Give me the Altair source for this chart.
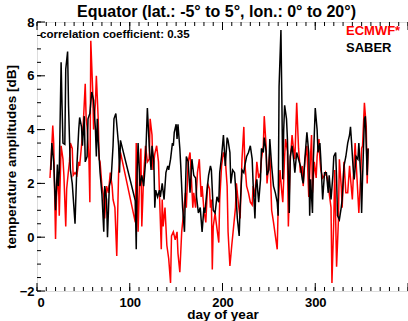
import altair as alt
import pandas as pd

# ---------------- data ----------------
saber_day = [15,16,18,20,22,23,24,26,27,28,30,31,33,34,36,38,41,43,45,46,48,49,51,52,54,55,57,59,61,63,64,65,66,68,70,72,73,75,76,78,80,82,83,85,87,88,89,90,
             106,107,108,109,111,113,115,117,118,119,121,123,124,126,127,128,130,132,133,135,137,139,141,142,144,146,147,148,150,151,152,154,155,157,159,160,161,163,165,167,169,171,172,174,176,178,180,181,183,185,187,188,190,192,194,196,197,199,201,203,205,206,208,209,211,213,214,216,218,219,221,223,224,226,228,230,232,233,235,236,237,239,241,242,244,245,247,248,250,251,253,255,257,259,260,261,263,264,265,266,267,269,270,272,273,275,277,278,280,282,284,286,287,289,291,293,294,295,297,298,300,302,303,305,306,308,310,312,314,315,317,319,320,322,323,324,326,328,329,331,333,335,337,338,339,341,342,344,346,347,349,350,351,353,354,356,357]
saber_val = [2.5,3.5,2.8,1.0,2.7,1.9,2.4,6.5,4.9,3.5,3.45,6.25,6.9,4.9,2.5,2.0,0.5,2.65,4.0,4.45,4.1,3.4,4.5,2.8,3.0,4.4,4.6,5.4,5.1,4.0,3.0,4.4,3.6,2.4,1.6,0.2,1.9,1.4,0.0,1.9,2.2,3.4,4.4,4.6,3.8,3.4,2.4,3.6,
             1.35,-0.45,2.5,3.5,1.9,2.3,1.9,2.8,3.8,4.8,3.4,2.5,3.4,2.8,1.1,1.75,1.5,1.75,1.5,2.0,1.4,2.4,2.65,2.5,2.9,3.5,3.4,3.9,4.2,3.65,4.2,3.3,2.65,1.1,0.2,1.65,3.0,2.8,1.65,2.9,2.3,2.2,1.5,0.9,1.1,0.2,1.1,0.9,1.65,2.3,2.65,2.5,1.0,0.9,1.5,1.3,2.4,3.0,3.8,2.65,3.7,3.6,3.15,2.0,2.5,2.4,1.9,0.7,0.05,1.1,2.5,2.4,2.65,3.0,3.15,3.4,2.9,2.0,0.7,1.9,2.15,1.3,2.15,3.3,3.15,3.7,3.2,2.3,2.5,3.65,2.65,1.9,1.65,1.3,0.8,5.6,7.7,5.1,2.15,4.0,4.9,4.4,3.65,0.9,3.0,3.4,2.8,2.4,3.15,2.9,2.65,2.15,2.0,3.0,3.9,3.15,0.8,2.15,0.9,2.9,4.8,4.0,3.15,3.5,2.9,1.4,2.4,2.4,1.65,2.3,1.4,2.3,3.0,3.15,2.2,0.8,0.65,1.1,1.4,2.65,3.0,3.5,3.8,4.1,3.6,2.5,2.15,3.0,2.9,3.5,2.3,0.9,2.2,4.4,4.5,2.3,3.3]

ecmwf_day = [14,16,17,18,20,21,23,24,26,28,29,31,32,34,35,36,38,39,41,43,45,46,48,50,52,53,54,56,57,58,60,61,63,64,66,67,68,70,72,73,75,77,79,81,82,84,86,87,88,90,
             106,107,109,111,112,113,115,117,119,121,122,124,125,127,129,131,132,134,135,136,138,140,142,144,145,147,149,151,152,154,156,158,160,161,163,165,166,168,169,171,173,175,177,178,180,182,184,186,187,188,189,190,192,193,196,197,199,201,203,205,206,208,210,212,214,215,217,219,221,223,224,226,228,230,232,233,235,237,239,241,242,244,245,247,248,250,251,253,255,257,259,260,262,264,265,267,268,270,271,273,275,277,278,280,282,284,286,287,289,291,293,294,296,297,299,301,302,304,305,306,308,310,311,313,315,317,318,320,321,323,325,326,328,329,331,333,335,337,338,340,341,343,345,347,349,350,351,353,355,356,357]
ecmwf_val = [2.2,3.4,4.15,3.5,-0.07,1.5,2.4,0.8,3.4,2.9,2.3,0.4,1.8,2.5,2.8,3.5,3.3,2.3,2.4,2.3,2.8,2.65,3.4,4.3,5.7,4.4,4.1,2.9,1.3,7.3,5.5,4.0,5.0,6.0,4.4,2.9,2.8,1.9,1.5,0.7,1.9,1.65,2.4,1.9,1.4,1.1,-0.7,0.9,2.4,3.15,
             0.55,3.5,0.2,2.65,3.3,0.4,2.3,3.4,2.8,2.9,4.4,3.8,2.5,3.1,3.4,2.8,1.65,-0.45,1.4,0.4,1.1,-0.3,-0.8,-1.7,0.05,0.2,-0.1,0.2,-0.6,-1.3,0.2,0.9,1.65,1.1,2.8,3.15,2.5,1.1,1.65,1.1,2.4,2.9,1.5,1.9,1.0,0.55,2.0,1.8,1.1,1.4,-1.2,0.4,0.9,0.6,-0.2,1.4,2.65,3.15,2.9,1.9,0.2,-1.07,-0.3,0.4,1.1,2.0,1.3,0.7,2.9,4.1,2.8,1.9,1.65,1.3,1.2,1.9,1.5,2.8,2.2,2.4,2.9,3.4,4.5,3.4,2.0,2.8,3.15,1.0,0.55,0.05,-0.45,1.1,2.5,1.65,1.3,3.0,3.65,3.2,0.4,2.8,3.8,3.15,2.9,5.0,3.3,2.4,2.65,1.9,2.9,3.4,1.5,2.3,3.8,1.65,2.8,2.2,3.0,3.65,2.9,2.5,2.2,2.3,2.4,2.2,1.65,1.1,-1.7,0.65,2.5,-1.1,0.65,2.9,1.9,1.1,2.8,1.65,1.65,2.65,2.2,1.4,2.2,3.5,2.2,0.9,2.3,3.3,3.4,5.0,4.1,2.0,3.3]

series_names = ["ECMWF*", "SABER"]
series_colors = ["#ff0000", "#000000"]

x_major = [0, 100, 200, 300, 400]
x_minor = list(range(0, 401, 10))
y_major = [-2, 0, 2, 4, 6, 8]
y_minor = [v / 2 for v in range(-4, 17)]

title_text = "Equator (lat.: -5° to 5°, lon.: 0° to 20°)"
corr_text = "correlation coefficient: 0.35"

# ---------------- layout ----------------
W, H = 371, 269
FONT = "Liberation Sans"

df = pd.concat([
    pd.DataFrame({"day": ecmwf_day, "amp": ecmwf_val, "series": "ECMWF*"}),
    pd.DataFrame({"day": saber_day, "amp": saber_val, "series": "SABER"}),
])

xs = alt.Scale(domain=[0, 400], nice=False, zero=False)
ys = alt.Scale(domain=[-2, 8], nice=False, zero=False)
cs = alt.Scale(domain=series_names, range=series_colors)

x_axis = alt.Axis(
    values=x_major[:-1], title="day of year", grid=False, ticks=False, domain=False,
    labelFont=FONT, labelFontWeight="bold", labelFontSize=13, labelPadding=5,
    labelColor="black", titleFont=FONT, titleFontWeight="bold", titleFontSize=13.5,
    titleColor="black", titleBaseline="alphabetic", titleY=27, titleX=W / 2)
y_axis = alt.Axis(
    values=y_major, title="temperature amplitudes [dB]", grid=False, ticks=False, domain=False,
    labelFont=FONT, labelFontWeight="bold", labelFontSize=13, labelPadding=3,
    labelColor="black", titleFont=FONT, titleFontWeight="bold", titleFontSize=13.5,
    titleColor="black", titleAngle=270, titleBaseline="middle", titleAlign="center",
    titleX=-26, titleY=H / 2)

lines = alt.Chart(df).mark_line(strokeWidth=1.5, interpolate="linear").encode(
    x=alt.X("day:Q", scale=xs, axis=x_axis),
    y=alt.Y("amp:Q", scale=ys, axis=y_axis),
    color=alt.Color("series:N", scale=cs, legend=None),
    order=alt.Order("day:Q"),
)

def xticks(vals, length):
    d = pd.DataFrame({"day": vals})
    bottom = alt.Chart(d).mark_rule(color="black", strokeWidth=1).encode(
        x=alt.X("day:Q", scale=xs, axis=x_axis), y=alt.value(H), y2=alt.value(H - length))
    top = alt.Chart(d).mark_rule(color="black", strokeWidth=1).encode(
        x=alt.X("day:Q", scale=xs, axis=x_axis), y=alt.value(0), y2=alt.value(length))
    return [bottom, top]

def yticks(vals, length):
    d = pd.DataFrame({"amp": vals})
    return alt.Chart(d).mark_rule(color="black", strokeWidth=1).encode(
        y=alt.Y("amp:Q", scale=ys, axis=y_axis), x=alt.value(0), x2=alt.value(length))

corr = alt.Chart(pd.DataFrame({"t": [corr_text]})).mark_text(
    font=FONT, fontWeight="bold", fontSize=11.5, align="left", baseline="alphabetic", color="black"
).encode(text="t:N", x=alt.value(3), y=alt.value(15.5))

def legend_item(i, ypix):
    return alt.Chart(pd.DataFrame({"name": [series_names[i]]})).mark_text(
        font=FONT, fontWeight="bold", fontSize=13, align="left", baseline="alphabetic",
        color=series_colors[i]
    ).encode(text="name:N", x=alt.value(309), y=alt.value(ypix))

layers = [lines] + xticks(x_minor, 4) + xticks(x_major, 8) + [yticks(y_minor, 4), yticks(y_major, 8),
          corr, legend_item(0, 13), legend_item(1, 30)]

chart = alt.layer(*layers).properties(
    width=W, height=H,
    title=alt.TitleParams(title_text, font=FONT, fontWeight="bold", fontSize=16, color="black",
                          anchor="middle", dx=-6, offset=-4),
    autosize=alt.AutoSizeParams(type="none"),
    padding={"left": 37, "top": 22, "right": 0, "bottom": 30},
).configure_view(stroke="black", strokeWidth=1.5).configure(background="white")

chart.save("out.html", embed_options={"renderer": "svg", "actions": False})
